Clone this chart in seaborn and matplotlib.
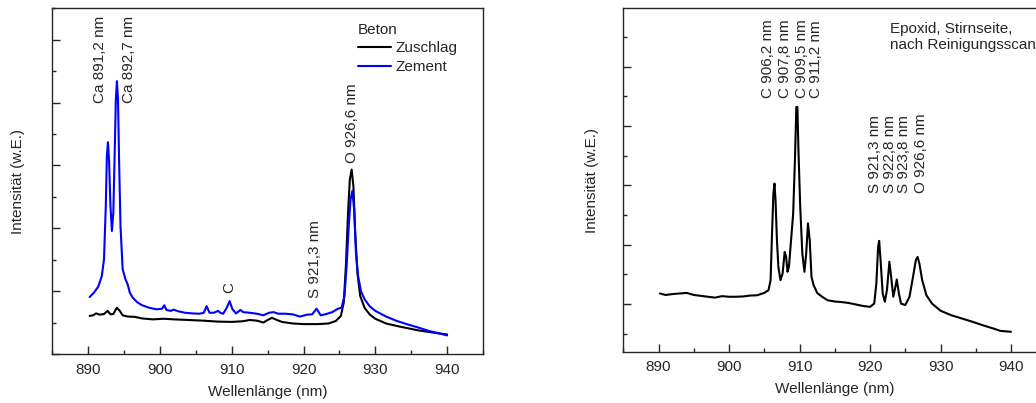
import numpy as np
import pandas as pd
import seaborn as sns
import matplotlib.pyplot as plt
from matplotlib.ticker import MultipleLocator, NullFormatter

# --- Beton: Zement (blue) ---
zement_wl = [890.2, 890.8, 891.4, 891.9, 892.2, 892.45, 892.6, 892.75, 892.9, 893.1,
             893.3, 893.5, 893.7, 893.85, 894.0, 894.15, 894.3, 894.5, 894.8, 895.2,
             895.5, 895.8, 896.2, 896.8, 897.5, 898.5, 899.5, 900.3, 900.6, 900.9,
             901.5, 901.9, 902.5, 903.5, 904.5, 905.5, 906.1, 906.5, 906.9, 907.5,
             908.1, 908.4, 908.8, 909.3, 909.7, 910.1, 910.6, 911.2, 911.6, 912.5,
             913.5, 914.4, 915.2, 915.8, 916.5, 917.5, 918.5, 919.5, 920.5, 921.2,
             921.8, 922.4, 923.0, 924.0, 924.8, 925.3, 925.7, 926.0, 926.3, 926.55,
             926.8, 927.05, 927.3, 927.6, 928.0, 928.5, 929.2, 930.0, 931.5, 933.0,
             934.5, 936.0, 937.5, 939.0, 940.0]
zement_int = [1.82, 1.96, 2.15, 2.49, 3.02, 4.71, 6.30, 6.74, 6.19, 4.71,
              3.92, 4.50, 6.51, 8.10, 8.68, 8.10, 6.19, 4.07, 2.70, 2.38,
              2.22, 1.96, 1.80, 1.66, 1.56, 1.48, 1.43, 1.45, 1.56, 1.41,
              1.38, 1.42, 1.37, 1.32, 1.30, 1.29, 1.32, 1.53, 1.32, 1.32,
              1.38, 1.32, 1.29, 1.48, 1.69, 1.43, 1.30, 1.41, 1.34, 1.32,
              1.29, 1.24, 1.32, 1.34, 1.29, 1.29, 1.27, 1.20, 1.26, 1.27,
              1.45, 1.24, 1.27, 1.34, 1.45, 1.48, 1.85, 2.80, 4.07, 4.92,
              5.19, 4.60, 3.23, 2.49, 2.01, 1.75, 1.53, 1.38, 1.20, 1.06,
              0.95, 0.85, 0.74, 0.66, 0.60]

# --- Beton: Zuschlag (black) ---
zuschlag_wl = [890.2, 890.7, 891.1, 891.6, 892.2, 892.7, 893.1, 893.5, 894.0, 894.4,
               894.8, 895.5, 896.5, 897.5, 899.0, 900.5, 902.0, 904.0, 906.0, 908.0,
               910.0, 911.5, 912.5, 913.5, 914.4, 915.0, 915.6, 916.3, 917.0, 918.5,
               920.0, 922.0, 923.5, 924.5, 925.2, 925.6, 925.9, 926.2, 926.45, 926.7,
               926.95, 927.2, 927.5, 927.9, 928.5, 929.2, 930.0, 931.5, 933.0, 934.5,
               936.0, 937.5, 939.0, 940.0]
zuschlag_int = [1.22, 1.24, 1.30, 1.26, 1.28, 1.38, 1.27, 1.28, 1.48, 1.38,
                1.24, 1.20, 1.19, 1.14, 1.11, 1.13, 1.11, 1.09, 1.07, 1.04,
                1.03, 1.05, 1.09, 1.07, 1.01, 1.09, 1.16, 1.09, 1.03, 0.98,
                0.96, 0.96, 0.98, 1.06, 1.22, 1.64, 2.80, 4.50, 5.56, 5.87,
                5.34, 3.86, 2.59, 1.85, 1.48, 1.27, 1.13, 0.98, 0.90, 0.83,
                0.76, 0.71, 0.66, 0.63]

# --- Epoxid, Stirnseite ---
epoxid_wl = [890.2, 891, 892, 893, 894, 895, 896, 897, 898, 899, 900, 901, 902, 903,
             904, 905, 905.6, 905.9, 906.1, 906.3, 906.45, 906.6, 906.8, 907.0, 907.3,
             907.6, 907.9, 908.1, 908.3, 908.5, 908.8, 909.1, 909.35, 909.55, 909.7,
             909.85, 910.1, 910.4, 910.7, 910.95, 911.2, 911.45, 911.7, 912.0, 912.5,
             913.2, 914, 915, 916, 917, 918, 919, 920, 920.6, 920.9, 921.15, 921.3,
             921.5, 921.8, 922.1, 922.4, 922.75, 923.0, 923.3, 923.6, 923.8, 924.1,
             924.4, 925.0, 925.6, 926.1, 926.5, 926.75, 927.0, 927.4, 928.0, 928.8,
             930, 931.5, 933, 934.5, 936, 937.5, 938.5, 940]
epoxid_int = [2.36, 2.31, 2.34, 2.36, 2.38, 2.31, 2.28, 2.25, 2.22, 2.27, 2.25, 2.25, 2.26, 2.29,
              2.30, 2.38, 2.47, 2.81, 4.38, 5.73, 6.06, 5.50, 4.15, 3.26, 2.81,
              3.03, 3.76, 3.59, 3.09, 3.26, 4.15, 5.05, 6.85, 8.64, 8.64,
              7.18, 5.28, 3.71, 3.09, 3.71, 4.72, 4.15, 2.92, 2.64, 2.38,
              2.25, 2.13, 2.09, 2.07, 2.04, 1.99, 1.94, 1.91, 2.02, 2.70, 3.93, 4.13,
              3.48, 2.36, 2.08, 2.47, 3.43, 2.92, 2.25, 2.58, 2.83, 2.36,
              2.02, 1.97, 2.25, 2.92, 3.48, 3.59, 3.37, 2.81, 2.30, 2.02,
              1.78, 1.63, 1.52, 1.41, 1.29, 1.18, 1.10, 1.07]

# peak labels
left_labels = ['Ca 891,2 nm', 'Ca 892,7 nm', 'C', 'S 921,3 nm', 'O 926,6 nm']
left_label_x = [891.6, 895.75, 909.6, 921.6, 926.8]
left_label_y = [8.0, 8.0, 1.96, 1.8, 6.08]
right_labels = ['C 906,2 nm', 'C 907,8 nm', 'C 909,5 nm', 'C 911,2 nm',
                'S 921,3 nm', 'S 922,8 nm', 'S 923,8 nm', 'O 926,6 nm']
right_label_x = [905.6, 908.0, 910.3, 912.3, 920.7, 922.8, 924.8, 927.3]
right_label_y = [8.94] * 4 + [5.73] * 4

beton = pd.concat([
    pd.DataFrame({'wl': zuschlag_wl, 'int': zuschlag_int, 'Probe': 'Zuschlag'}),
    pd.DataFrame({'wl': zement_wl, 'int': zement_int, 'Probe': 'Zement'}),
])
epoxid = pd.DataFrame({'wl': epoxid_wl, 'int': epoxid_int})

FS = 11

sns.set_style('ticks')
plt.rcParams['font.family'] = ['Liberation Sans', 'DejaVu Sans']
plt.rcParams['font.size'] = FS

fig = plt.figure(figsize=(10.36, 4.03), dpi=100)
ax1 = fig.add_axes([0.0505, 0.1208, 0.4157, 0.859])
ax2 = fig.add_axes([0.6016, 0.1273, 0.4083, 0.852])

sns.lineplot(data=beton, x='wl', y='int', hue='Probe', sort=False, estimator=None,
             palette={'Zuschlag': 'black', 'Zement': '#0000ff'}, linewidth=1.5, ax=ax1)
sns.lineplot(data=epoxid, x='wl', y='int', sort=False, estimator=None,
             color='black', linewidth=1.5, ax=ax2)

ax1.set_ylim(0, 11)
ax2.set_ylim(0.4, 11.96)

for ax in (ax1, ax2):
    ax.set_xlim(885, 945)
    ax.xaxis.set_major_locator(MultipleLocator(10))
    ax.xaxis.set_minor_locator(MultipleLocator(5))
    ax.yaxis.set_major_locator(MultipleLocator(2))
    ax.yaxis.set_minor_locator(MultipleLocator(1))
    ax.yaxis.set_major_formatter(NullFormatter())
    ax.tick_params(which='both', direction='in', width=1.0, labelsize=FS)
    ax.tick_params(which='major', length=5.5)
    ax.tick_params(which='minor', length=3.2)
    ax.tick_params(axis='x', which='major', pad=6)
    for s in ax.spines.values():
        s.set_linewidth(1.0)
    ax.set_xlabel('Wellenlänge (nm)', fontsize=FS, labelpad=6)
    ax.set_ylabel('Intensität (w.E.)', fontsize=FS)

ax1.yaxis.set_label_coords(-0.063, 0.5)
ax2.yaxis.set_label_coords(-0.0574, 0.5)

handles, labels = ax1.get_legend_handles_labels()
ax1.legend(handles, labels, title='Beton', frameon=False, loc='upper left',
           bbox_to_anchor=(0.695, 0.975), alignment='left', handlelength=2.2,
           handletextpad=0.3, labelspacing=0.3, fontsize=FS, title_fontsize=FS,
           borderaxespad=0)

for t, x, y in zip(left_labels, left_label_x, left_label_y):
    ax1.text(x, y, t, rotation=90, ha='center', va='bottom', fontsize=FS)
for t, x, y in zip(right_labels, right_label_x, right_label_y):
    ax2.text(x, y, t, rotation=90, ha='center', va='bottom', fontsize=FS)

ax2.text(922.8, 11.5, 'Epoxid, Stirnseite,\nnach Reinigungsscan', ha='left', va='top',
         fontsize=FS, linespacing=1.15)

fig.savefig('out.png', dpi=100)
